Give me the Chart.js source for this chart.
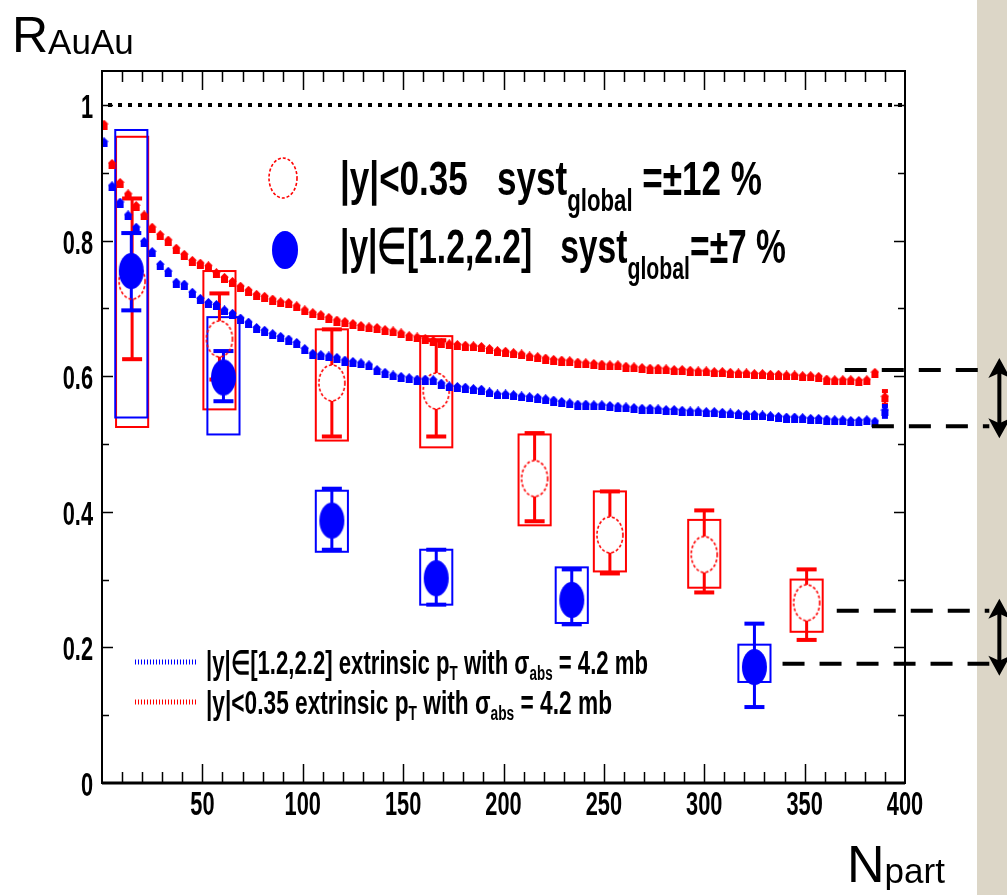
<!DOCTYPE html>
<html>
<head>
<meta charset="utf-8">
<script src="https://cdn.jsdelivr.net/npm/chart.js@4.4.1/dist/chart.umd.min.js"></script>
<style>
  html, body { margin: 0; padding: 0; background: #fff; }
  #wrap { width: 1007px; height: 895px; }
</style>
</head>
<body>
<div id="wrap"><canvas id="chart" width="1007" height="895"></canvas></div>
<script>
// axis ticks
const xTicks = [0, 50, 100, 150, 200, 250, 300, 350, 400];
const yTicks = [0, 0.2, 0.4, 0.6, 0.8, 1];

// |y|<0.35 measurement
const midNpart  = [15, 58.5, 114.5, 166.5, 215.5, 253, 300, 351];
const midR      = [0.740, 0.655, 0.590, 0.578, 0.449, 0.366, 0.337, 0.266];
const midStatLo = [0.625, 0.595, 0.511, 0.511, 0.386, 0.309, 0.281, 0.211];
const midStatHi = [0.862, 0.722, 0.669, 0.653, 0.516, 0.430, 0.402, 0.315];
const midSystLo = [0.525, 0.551, 0.505, 0.495, 0.380, 0.312, 0.288, 0.223];
const midSystHi = [0.953, 0.755, 0.669, 0.659, 0.514, 0.430, 0.388, 0.300];

// |y| in [1.2,2.2] measurement
const fwdNpart  = [14.6, 60.5, 114.5, 166.5, 234, 325];
const fwdR      = [0.755, 0.598, 0.387, 0.302, 0.270, 0.171];
const fwdStatLo = [0.697, 0.563, 0.344, 0.263, 0.234, 0.112];
const fwdStatHi = [0.811, 0.637, 0.434, 0.344, 0.315, 0.235];
const fwdSystLo = [0.539, 0.514, 0.341, 0.263, 0.236, 0.149];
const fwdSystHi = [0.963, 0.687, 0.431, 0.344, 0.318, 0.204];

// extrinsic pT model, sigma_abs = 4.2 mb
const modelNpart = [
  1, 5, 9, 13, 17, 21, 25, 29, 33, 37, 41, 45, 49, 53, 57, 61, 65, 69, 73, 77,
  81, 85, 89, 93, 97, 101, 105, 109, 113, 117, 121, 125, 129, 133, 137, 141, 145, 149, 153, 157,
  161, 165, 169, 173, 177, 181, 185, 189, 193, 197, 201, 205, 209, 213, 217, 221, 225, 229, 233, 237,
  241, 245, 249, 253, 257, 261, 265, 269, 273, 277, 281, 285, 289, 293, 297, 301, 305, 309, 313, 317,
  321, 325, 329, 333, 337, 341, 345, 349, 353, 357, 361, 365, 369, 373, 377, 381, 385
];
const modelMid = [
  0.971, 0.913, 0.885, 0.868, 0.851, 0.837, 0.819, 0.808, 0.800, 0.788, 0.779, 0.770, 0.766, 0.762, 0.752, 0.745, 0.739, 0.732, 0.726, 0.720,
  0.717, 0.713, 0.709, 0.708, 0.703, 0.697, 0.693, 0.690, 0.686, 0.682, 0.680, 0.677, 0.674, 0.672, 0.671, 0.668, 0.666, 0.663, 0.659, 0.657,
  0.655, 0.652, 0.649, 0.647, 0.646, 0.645, 0.644, 0.643, 0.640, 0.637, 0.636, 0.634, 0.632, 0.629, 0.628, 0.626, 0.624, 0.623, 0.622, 0.620,
  0.619, 0.618, 0.617, 0.616, 0.616, 0.614, 0.613, 0.612, 0.611, 0.611, 0.610, 0.609, 0.609, 0.608, 0.607, 0.607, 0.606, 0.606, 0.605, 0.604,
  0.604, 0.603, 0.603, 0.602, 0.602, 0.601, 0.601, 0.600, 0.600, 0.599, 0.595, 0.594, 0.594, 0.594, 0.593, 0.594, 0.605
];
const modelFwd = [
  0.945, 0.880, 0.856, 0.837, 0.819, 0.798, 0.783, 0.764, 0.754, 0.738, 0.735, 0.723, 0.714, 0.708, 0.705, 0.697, 0.692, 0.685, 0.679, 0.671,
  0.667, 0.662, 0.658, 0.654, 0.649, 0.640, 0.633, 0.631, 0.629, 0.627, 0.623, 0.621, 0.619, 0.616, 0.609, 0.605, 0.601, 0.599, 0.597, 0.595,
  0.595, 0.594, 0.589, 0.585, 0.584, 0.583, 0.581, 0.580, 0.576, 0.573, 0.573, 0.572, 0.570, 0.569, 0.568, 0.566, 0.564, 0.562, 0.560, 0.558,
  0.558, 0.557, 0.557, 0.556, 0.555, 0.554, 0.553, 0.552, 0.552, 0.551, 0.550, 0.550, 0.549, 0.548, 0.548, 0.547, 0.547, 0.546, 0.545, 0.544,
  0.543, 0.543, 0.542, 0.541, 0.540, 0.539, 0.539, 0.538, 0.537, 0.537, 0.536, 0.535, 0.535, 0.534, 0.534, 0.535, 0.533
];
// last model point with its error
const endNpart = [390];
const endMid = [0.569], endMidLo = [0.558], endMidHi = [0.578];
const endFwd = [0.549], endFwdLo = [0.540], endFwdHi = [0.556];

// dashed guide levels and where they start
const guideLevels = [0.609, 0.526, 0.254, 0.176];
const guideStart  = [370, 383.5, 366, 339];
const guideEnd = 442;
const arrowPairs = [[0.609, 0.526], [0.254, 0.176]];
const arrowNpart = 447;

const RED = '#ff0000', BLUE = '#0000ff';
const BOLD = "'Liberation Sans', Arial, sans-serif";
const PLAIN = "'Liberation Sans', Arial, sans-serif";
const BOX_HALF = 8;
const TICK_FONT = 'bold 33px ' + BOLD;
const TICK_SQUEEZE = 0.66;

function ellipseMarker(color, filled, rx, ry) {
  const c = document.createElement('canvas');
  c.width = rx * 2 + 4; c.height = ry * 2 + 4;
  const g = c.getContext('2d');
  g.beginPath();
  g.ellipse(c.width / 2, c.height / 2, rx, ry, 0, 0, Math.PI * 2);
  if (filled) {
    g.fillStyle = color; g.fill();
  } else {
    g.strokeStyle = color; g.lineWidth = 1.6; g.setLineDash([3, 2]); g.stroke();
  }
  return c;
}

function houseMarker(color) {
  const c = document.createElement('canvas');
  c.width = 9; c.height = 10;
  const g = c.getContext('2d');
  g.fillStyle = color;
  g.beginPath();
  g.moveTo(4.5, 0); g.lineTo(9, 4.5); g.lineTo(0, 4.5); g.closePath(); g.fill();
  g.fillRect(1, 4, 7, 6);
  return c;
}

const redOpen = ellipseMarker(RED, false, 13, 18);
const blueFull = ellipseMarker(BLUE, true, 12.5, 18);
const redOpenKey = ellipseMarker(RED, false, 14, 20);
const blueFullKey = ellipseMarker(BLUE, true, 13, 19);
const redHouse = houseMarker(RED);
const blueHouse = houseMarker(BLUE);

function pts(xs, ys) { return xs.map((x, i) => ({ x: x, y: ys[i] })); }

// text with sub/superscripts, squeezed to a given width
function drawRich(ctx, segs, x, y, width) {
  let total = 0;
  segs.forEach(s => { ctx.font = s.font; s.w = ctx.measureText(s.t).width; total += s.w; });
  const sx = width ? width / total : 1;
  ctx.save();
  ctx.translate(x, y);
  ctx.scale(sx, 1);
  ctx.textBaseline = 'alphabetic';
  ctx.textAlign = 'left';
  ctx.fillStyle = '#000';
  let cx = 0;
  segs.forEach(s => { ctx.font = s.font; ctx.fillText(s.t, cx, s.dy || 0); cx += s.w; });
  ctx.restore();
}

// condensed tick label, align = 'center' or 'right'
function drawTickText(ctx, text, x, y, align) {
  ctx.save();
  ctx.translate(x, y);
  ctx.scale(TICK_SQUEEZE, 1);
  ctx.font = TICK_FONT;
  ctx.fillStyle = '#000';
  ctx.textAlign = align;
  ctx.textBaseline = 'alphabetic';
  ctx.fillText(text, 0, 0);
  ctx.restore();
}

function drawBoxes(ctx, xs, ys, npart, lo, hi, color) {
  ctx.save();
  ctx.strokeStyle = color; ctx.lineWidth = 2;
  npart.forEach((n, i) => {
    const x0 = xs.getPixelForValue(n - BOX_HALF), x1 = xs.getPixelForValue(n + BOX_HALF);
    const y0 = ys.getPixelForValue(hi[i]), y1 = ys.getPixelForValue(lo[i]);
    ctx.strokeRect(x0, y0, x1 - x0, y1 - y0);
  });
  ctx.restore();
}

function drawStat(ctx, xs, ys, npart, r, lo, hi, color, gap, cap, lw) {
  ctx.save();
  ctx.strokeStyle = color; ctx.fillStyle = color; ctx.lineWidth = lw;
  npart.forEach((n, i) => {
    const x = xs.getPixelForValue(n), yc = ys.getPixelForValue(r[i]);
    const yt = ys.getPixelForValue(hi[i]), yb = ys.getPixelForValue(lo[i]);
    ctx.beginPath();
    if (yc - gap > yt) { ctx.moveTo(x, yt); ctx.lineTo(x, yc - gap); }
    if (yc + gap < yb) { ctx.moveTo(x, yc + gap); ctx.lineTo(x, yb); }
    ctx.stroke();
    ctx.fillRect(x - cap, yt - 2, cap * 2, 4);
    ctx.fillRect(x - cap, yb - 2, cap * 2, 4);
  });
  ctx.restore();
}

function drawArrow(ctx, x, yTop, yBot) {
  ctx.save();
  ctx.fillStyle = '#000'; ctx.strokeStyle = '#000'; ctx.lineWidth = 4;
  ctx.beginPath(); ctx.moveTo(x, yTop + 14); ctx.lineTo(x, yBot - 14); ctx.stroke();
  ctx.beginPath();
  ctx.moveTo(x, yTop); ctx.lineTo(x - 11, yTop + 20); ctx.lineTo(x, yTop + 15); ctx.lineTo(x + 11, yTop + 20); ctx.closePath();
  ctx.fill();
  ctx.beginPath();
  ctx.moveTo(x, yBot); ctx.lineTo(x - 11, yBot - 20); ctx.lineTo(x, yBot - 15); ctx.lineTo(x + 11, yBot - 20); ctx.closePath();
  ctx.fill();
  ctx.restore();
}

const decor = {
  id: 'decor',
  beforeDraw(chart) {
    const ctx = chart.ctx;
    ctx.save();
    ctx.fillStyle = '#ffffff';
    ctx.fillRect(0, 0, chart.width, chart.height);
    ctx.fillStyle = '#dcd6c7';
    ctx.fillRect(977, 0, chart.width - 977, chart.height);
    ctx.restore();
  },
  beforeDatasetsDraw(chart) {
    const ctx = chart.ctx, xs = chart.scales.x, ys = chart.scales.y, ca = chart.chartArea;
    // tick labels from the scales' own ticks
    xs.ticks.forEach(t => {
      if (t.value !== 0) drawTickText(ctx, String(t.value), xs.getPixelForValue(t.value), ca.bottom + 32, 'center');
    });
    ys.ticks.forEach(t => {
      drawTickText(ctx, String(t.value), ca.left - 9, ys.getPixelForValue(t.value) + 13, 'right');
    });

    // dotted line at unity
    ctx.save();
    ctx.strokeStyle = '#000'; ctx.lineWidth = 4; ctx.setLineDash([4, 6]);
    ctx.beginPath();
    ctx.moveTo(ca.left + 6, ys.getPixelForValue(1)); ctx.lineTo(ca.right, ys.getPixelForValue(1));
    ctx.stroke();
    ctx.restore();

    drawBoxes(ctx, xs, ys, midNpart, midSystLo, midSystHi, RED);
    drawBoxes(ctx, xs, ys, fwdNpart, fwdSystLo, fwdSystHi, BLUE);
    drawStat(ctx, xs, ys, midNpart, midR, midStatLo, midStatHi, RED, 18, 10, 3);
    drawStat(ctx, xs, ys, fwdNpart, fwdR, fwdStatLo, fwdStatHi, BLUE, 17, 10, 3);
    drawStat(ctx, xs, ys, endNpart, endMid, endMidLo, endMidHi, RED, 0, 3, 2);
    drawStat(ctx, xs, ys, endNpart, endFwd, endFwdLo, endFwdHi, BLUE, 0, 3, 2);
  },
  afterDatasetsDraw(chart) {
    const ctx = chart.ctx, xs = chart.scales.x, ys = chart.scales.y, ca = chart.chartArea;
    ctx.save();
    // frame and inward ticks
    ctx.strokeStyle = '#000';
    ctx.lineWidth = 2;
    ctx.strokeRect(ca.left, ca.top, ca.width, ca.height);
    ctx.lineWidth = 3;
    ctx.beginPath(); ctx.moveTo(ca.left, ca.bottom); ctx.lineTo(ca.right, ca.bottom); ctx.stroke();
    ctx.lineWidth = 1.5;
    ctx.beginPath();
    for (let n = 10; n < 400; n += 10) {
      const x = Math.round(xs.getPixelForValue(n)) + 0.5;
      const len = n % 50 === 0 ? 19 : 11;
      ctx.moveTo(x, ca.bottom); ctx.lineTo(x, ca.bottom - len);
      ctx.moveTo(x, ca.top); ctx.lineTo(x, ca.top + len);
    }
    for (let k = 1; k <= 10; k++) {
      const y = Math.round(ys.getPixelForValue(k / 10)) + 0.5;
      const len = k % 2 === 0 ? 11 : 7;
      ctx.moveTo(ca.left, y); ctx.lineTo(ca.left + len, y);
      ctx.moveTo(ca.right, y); ctx.lineTo(ca.right - len, y);
    }
    ctx.stroke();

    // dashed guides
    ctx.lineWidth = 4; ctx.setLineDash([22, 15]);
    guideLevels.forEach((v, i) => {
      const y = ys.getPixelForValue(v);
      ctx.beginPath();
      ctx.moveTo(xs.getPixelForValue(guideStart[i]), y);
      ctx.lineTo(xs.getPixelForValue(guideEnd), y);
      ctx.stroke();
    });
    ctx.setLineDash([]);
    ctx.restore();
    arrowPairs.forEach(p => {
      drawArrow(ctx, xs.getPixelForValue(arrowNpart), ys.getPixelForValue(p[0]) - 12, ys.getPixelForValue(p[1]) + 12);
    });

    // key for the measurements
    ctx.drawImage(redOpenKey, 283 - redOpenKey.width / 2, 178 - redOpenKey.height / 2);
    ctx.drawImage(blueFullKey, 285 - blueFullKey.width / 2, 250 - blueFullKey.height / 2);
    const big = 'bold 49px ' + BOLD, sub = 'bold 31px ' + BOLD;
    drawRich(ctx, [
      { t: '|y|<0.35   syst', font: big },
      { t: 'global', font: sub, dy: 16 },
      { t: ' =±12 %', font: big }
    ], 340, 195, 422);
    drawRich(ctx, [
      { t: '|y|∈[1.2,2.2]   syst', font: big },
      { t: 'global', font: sub, dy: 16 },
      { t: '=±7 %', font: big }
    ], 340, 263, 446);

    // key for the model curves
    ctx.save();
    ctx.lineWidth = 5; ctx.setLineDash([1, 2]);
    ctx.strokeStyle = BLUE;
    ctx.beginPath(); ctx.moveTo(135, 662); ctx.lineTo(197, 662); ctx.stroke();
    ctx.strokeStyle = RED;
    ctx.beginPath(); ctx.moveTo(135, 702); ctx.lineTo(197, 702); ctx.stroke();
    ctx.restore();
    const mid = 'bold 33px ' + BOLD, small = 'bold 20px ' + BOLD;
    drawRich(ctx, [
      { t: '|y|∈[1.2,2.2] extrinsic p', font: mid },
      { t: 'T', font: small, dy: 6 },
      { t: ' with σ', font: mid },
      { t: 'abs', font: small, dy: 6 },
      { t: ' = 4.2 mb', font: mid }
    ], 206, 674, 442);
    drawRich(ctx, [
      { t: '|y|<0.35 extrinsic p', font: mid },
      { t: 'T', font: small, dy: 6 },
      { t: ' with σ', font: mid },
      { t: 'abs', font: small, dy: 6 },
      { t: ' = 4.2 mb', font: mid }
    ], 206, 714, 406);

    // axis titles
    drawRich(ctx, [
      { t: 'R', font: '50px ' + PLAIN },
      { t: 'AuAu', font: '35px ' + PLAIN, dy: 2 }
    ], 12, 52);
    drawRich(ctx, [
      { t: 'N', font: '52px ' + PLAIN },
      { t: 'part', font: '35px ' + PLAIN, dy: 1 }
    ], 847, 882);
  }
};

new Chart(document.getElementById('chart'), {
  type: 'scatter',
  data: {
    datasets: [
      { label: 'model fwd', data: pts(modelNpart, modelFwd), pointStyle: blueHouse, showLine: false },
      { label: 'model mid', data: pts(modelNpart, modelMid), pointStyle: redHouse, showLine: false },
      { label: 'model fwd end', data: pts(endNpart, endFwd), pointStyle: blueHouse, showLine: false },
      { label: 'model mid end', data: pts(endNpart, endMid), pointStyle: redHouse, showLine: false },
      { label: '|y|∈[1.2,2.2]', data: pts(fwdNpart, fwdR), pointStyle: blueFull, showLine: false },
      { label: '|y|<0.35', data: pts(midNpart, midR), pointStyle: redOpen, showLine: false }
    ]
  },
  options: {
    responsive: false,
    devicePixelRatio: 1,
    animation: false,
    layout: { padding: { left: 0, top: 71, right: 102, bottom: 0 } },
    plugins: { legend: { display: false }, tooltip: { enabled: false } },
    scales: {
      x: {
        type: 'linear', min: 0, max: 400,
        afterBuildTicks: s => { s.ticks = xTicks.map(v => ({ value: v })); },
        afterFit: s => { s.height = 112; },
        grid: { display: false, drawTicks: false },
        border: { display: false },
        ticks: { display: false }
      },
      y: {
        type: 'linear', min: 0, max: 1.05,
        afterBuildTicks: s => { s.ticks = yTicks.map(v => ({ value: v })); },
        afterFit: s => { s.width = 102; },
        grid: { display: false, drawTicks: false },
        border: { display: false },
        ticks: { display: false }
      }
    }
  },
  plugins: [decor]
});
</script>
</body>
</html>
